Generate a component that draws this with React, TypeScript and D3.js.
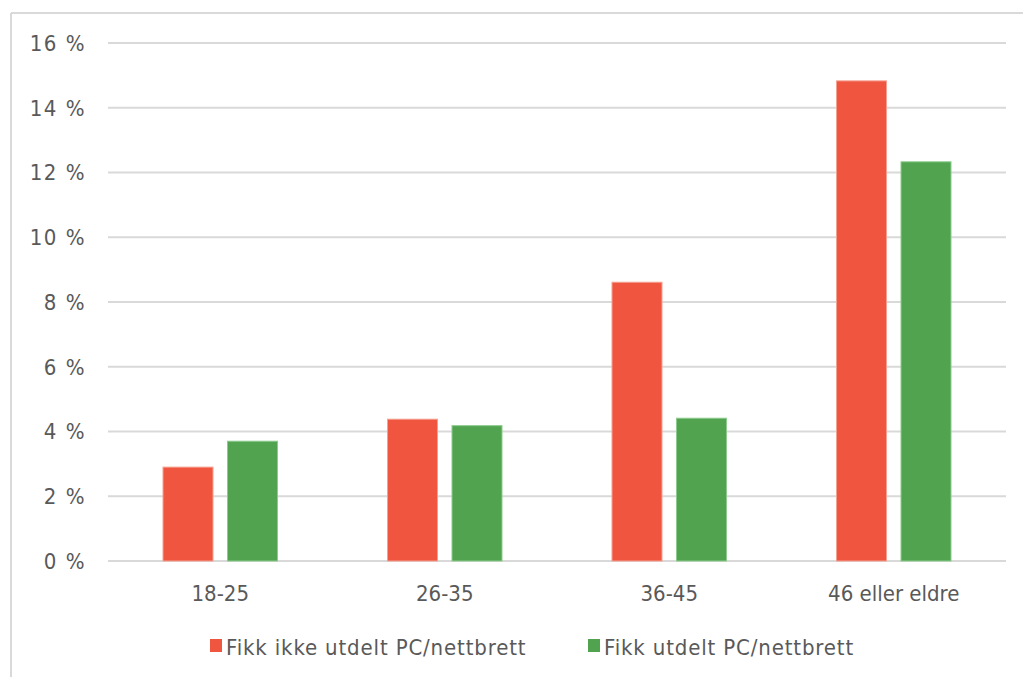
import React from "react";
import * as d3 from "d3";

const categories = ["18-25", "26-35", "36-45", "46 eller eldre"];
const seriesNames = ["Fikk ikke utdelt PC/nettbrett", "Fikk utdelt PC/nettbrett"];
const notGiven = [2.9, 4.38, 8.61, 14.83];
const given = [3.7, 4.18, 4.41, 12.33];
const yTicks = [0, 2, 4, 6, 8, 10, 12, 14, 16];
const colors = ["#f0563f", "#51a350"];
const strokeColors = ["#f5a090", "#8ccb8c"];

const W = 1023;
const H = 677;
const FONT = "'DejaVu Sans Condensed', 'DejaVu Sans', Verdana, sans-serif";
const TEXT = "#595959";
const FS = 22;

export default function App() {
  const x0 = d3.scaleBand<string>().domain(categories).range([108, 1006]).paddingInner(0).paddingOuter(0);
  const y = d3.scaleLinear().domain([0, 16]).range([561, 43]);
  const barW = 50;
  const gap = 14.5;
  const x1 = d3
    .scaleOrdinal<number, number>()
    .domain([0, 1])
    .range([-(gap / 2) - barW, gap / 2]);
  const series = [notGiven, given];

  return (
    <svg
      width={W}
      height={H}
      style={{ position: "absolute", left: 0, top: 0, display: "block", background: "#fff" }}
      fontFamily={FONT}
      fontStretch="condensed"
    >
      <rect x={0} y={0} width={W} height={H} fill="#fff" />
      {/* frame */}
      <line x1={11} x2={W} y1={13} y2={13} stroke="#d9d9d9" strokeWidth={2} />
      <line x1={11} x2={11} y1={13} y2={H} stroke="#d9d9d9" strokeWidth={2} />
      {/* gridlines */}
      {yTicks.map((t) => (
        <g key={t}>
          <line x1={108} x2={1006} y1={y(t)} y2={y(t)} stroke="#d9d9d9" strokeWidth={2} />
          <text x={86} y={y(t)} dy="0.36em" textAnchor="end" fontSize={FS} fill={TEXT} letterSpacing={1.5}>
            {t} %
          </text>
        </g>
      ))}
      {/* bars */}
      {series.map((vals, si) =>
        vals.map((v, ci) => {
          const cx = (x0(categories[ci]) as number) + x0.bandwidth() / 2;
          const bx = cx + x1(si);
          return (
            <rect
              key={`${si}-${ci}`}
              x={bx}
              y={y(v)}
              width={barW}
              height={y(0) - y(v)}
              fill={colors[si]}
              stroke={strokeColors[si]}
              strokeWidth={1}
            />
          );
        })
      )}
      {/* x labels */}
      {categories.map((c) => (
        <text
          key={c}
          x={(x0(c) as number) + x0.bandwidth() / 2}
          y={601}
          textAnchor="middle"
          fontSize={FS}
          fill={TEXT}
        >
          {c}
        </text>
      ))}
      {/* legend */}
      {seriesNames.map((n, i) => {
        const lx = [210, 588][i];
        return (
          <g key={n}>
            <rect x={lx} y={639} width={12} height={13} fill={colors[i]} />
            <text x={lx + 16} y={655} fontSize={FS} fill={TEXT} letterSpacing={0.85}>
              {n}
            </text>
          </g>
        );
      })}
    </svg>
  );
}
